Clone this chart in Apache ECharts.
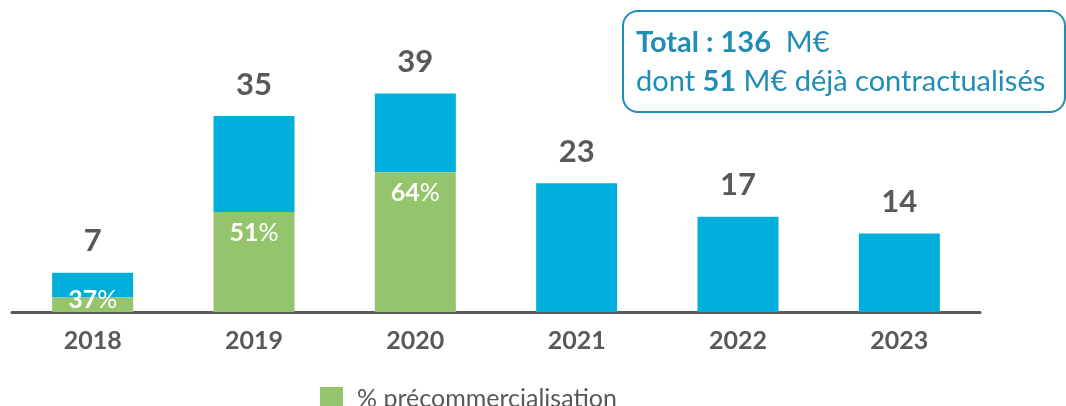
<!DOCTYPE html>
<html>
<head>
<meta charset="utf-8">
<script src="https://cdn.jsdelivr.net/npm/echarts@6/dist/echarts.min.js"></script>
<style>
  html, body { margin: 0; padding: 0; background: #fff; }
  #chart { width: 1066px; height: 406px; }
</style>
</head>
<body>
<div id="chart"></div>
<script>
const years = ['2018', '2019', '2020', '2021', '2022', '2023']
const totals = [7, 35, 39, 23, 17, 14]
const precoPct = [37, 51, 64, null, null, null]

const font = 'Lato, "Open Sans", sans-serif'
const grey = '#595959'
const blue = '#00AEDB'
const green = '#94C46C'
const boxBlue = '#1F8DB6'

const precoValues = totals.map((t, i) => (precoPct[i] ? +(t * precoPct[i] / 100).toFixed(2) : 0))
const restValues = totals.map((t, i) => +(t - precoValues[i]).toFixed(2))

const chart = echarts.init(document.getElementById('chart'))

chart.setOption({
  animation: false,
  textStyle: { fontFamily: font },
  grid: { left: 12, right: 86, top: 32, bottom: 94 },
  legend: {
    data: ['% précommercialisation'],
    left: 315,
    top: 381,
    icon: 'rect',
    itemWidth: 23,
    itemHeight: 23,
    textStyle: { fontSize: 25, color: grey, fontFamily: font, padding: [0, 0, 0, 9] }
  },
  xAxis: {
    type: 'category',
    data: years,
    axisLine: { lineStyle: { color: grey, width: 3 } },
    axisTick: { show: false },
    axisLabel: { fontSize: 25, fontWeight: 'bold', color: grey, margin: 16, fontFamily: font }
  },
  yAxis: {
    type: 'value',
    min: 0,
    max: 50,
    show: false,
    splitLine: { show: false }
  },
  series: [
    {
      name: '% précommercialisation',
      type: 'bar',
      stack: 'total',
      barWidth: 81,
      itemStyle: { color: green },
      data: precoValues.map((v, i) => ({
        value: v,
        label: i === 0 ? { position: 'insideBottom', distance: 0 } : undefined
      })),
      label: {
        show: true,
        position: 'insideTop',
        distance: 8,
        formatter: (p) => (precoPct[p.dataIndex] ? `{n|${precoPct[p.dataIndex]}}{p|%}` : ''),
        rich: {
          n: { fontSize: 25, fontWeight: 'bold', color: '#fff', fontFamily: font },
          p: { fontSize: 25, color: '#fff', fontFamily: font }
        }
      }
    },
    {
      name: 'reste',
      type: 'bar',
      stack: 'total',
      barWidth: 81,
      itemStyle: { color: blue },
      data: restValues,
      label: {
        show: true,
        position: 'top',
        distance: 16,
        formatter: (p) => String(totals[p.dataIndex]),
        fontSize: 31,
        fontWeight: 'bold',
        color: grey,
        fontFamily: font
      },
      z: 1
    }
  ],
  graphic: [
    {
      type: 'rect',
      left: 622,
      top: 10,
      shape: { width: 442, height: 101, r: 15 },
      style: { fill: '#fff', stroke: boxBlue, lineWidth: 2 }
    },
    {
      type: 'text',
      left: 636,
      top: 28,
      style: {
        text: '{b|Total : 136}{r|  M€}\n{r|dont }{b|51}{r| M€ déjà contractualisés}',
        rich: {
          b: { fontSize: 29, fontWeight: 'bold', fill: boxBlue, fontFamily: font, lineHeight: 39 },
          r: { fontSize: 29, fill: boxBlue, fontFamily: font, lineHeight: 39 }
        }
      }
    }
  ]
})
</script>
</body>
</html>
